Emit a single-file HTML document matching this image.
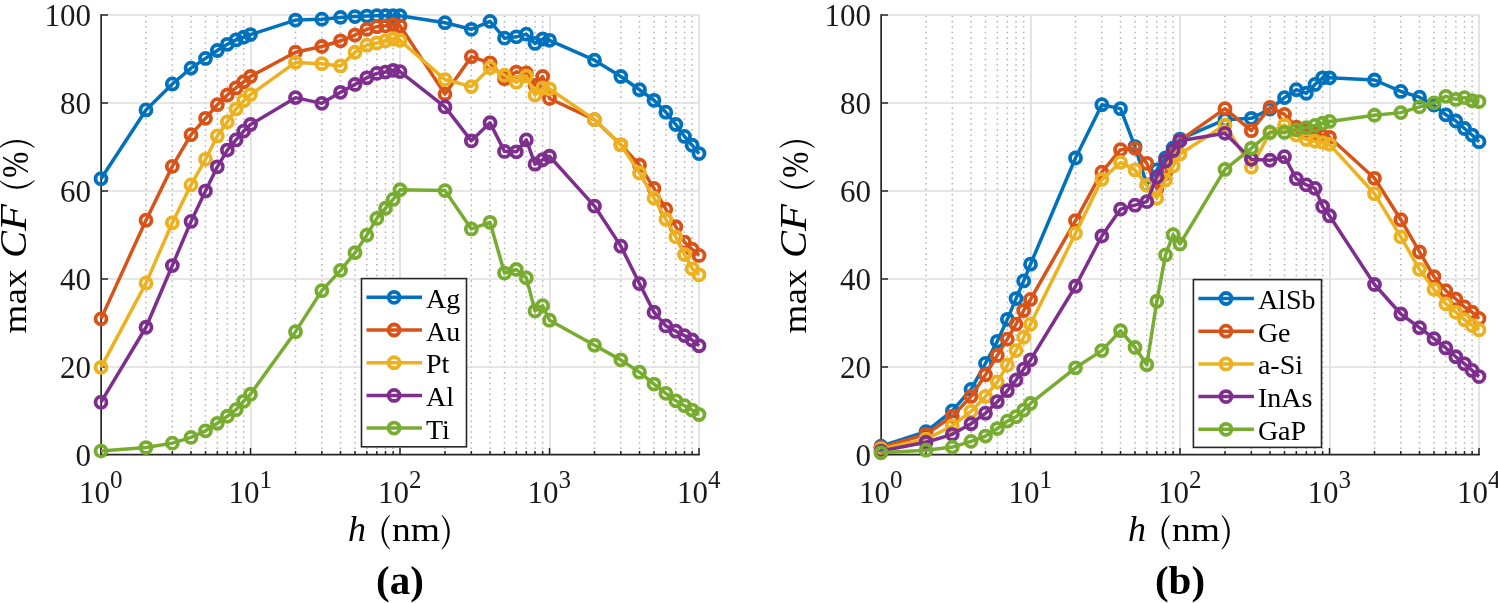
<!DOCTYPE html>
<html><head><meta charset="utf-8"><style>
html,body{margin:0;padding:0;background:#fff;}
svg{display:block;will-change:transform;}
text{font-family:"Liberation Serif",serif;fill:#000;}
.tk{font-size:31px;fill:#1a1a1a;}
.sup{font-size:25px;}
.lg{font-size:28px;}
.al{font-size:34px;}
.it{font-style:italic;}
.pl{font-size:41px;font-weight:bold;}
</style></head><body>
<svg width="1498" height="603" viewBox="0 0 1498 603">
<rect width="1498" height="603" fill="#fff"/>
<line x1="146.00" y1="15.00" x2="146.00" y2="455.00" stroke="#b0b0b0" stroke-width="1.5" stroke-dasharray="1.5 3.9" stroke-dashoffset="4.85"/>
<line x1="172.33" y1="15.00" x2="172.33" y2="455.00" stroke="#b0b0b0" stroke-width="1.5" stroke-dasharray="1.5 3.9" stroke-dashoffset="4.85"/>
<line x1="191.01" y1="15.00" x2="191.01" y2="455.00" stroke="#b0b0b0" stroke-width="1.5" stroke-dasharray="1.5 3.9" stroke-dashoffset="4.85"/>
<line x1="205.50" y1="15.00" x2="205.50" y2="455.00" stroke="#b0b0b0" stroke-width="1.5" stroke-dasharray="1.5 3.9" stroke-dashoffset="4.85"/>
<line x1="217.33" y1="15.00" x2="217.33" y2="455.00" stroke="#b0b0b0" stroke-width="1.5" stroke-dasharray="1.5 3.9" stroke-dashoffset="4.85"/>
<line x1="227.34" y1="15.00" x2="227.34" y2="455.00" stroke="#b0b0b0" stroke-width="1.5" stroke-dasharray="1.5 3.9" stroke-dashoffset="4.85"/>
<line x1="236.01" y1="15.00" x2="236.01" y2="455.00" stroke="#b0b0b0" stroke-width="1.5" stroke-dasharray="1.5 3.9" stroke-dashoffset="4.85"/>
<line x1="243.66" y1="15.00" x2="243.66" y2="455.00" stroke="#b0b0b0" stroke-width="1.5" stroke-dasharray="1.5 3.9" stroke-dashoffset="4.85"/>
<line x1="295.50" y1="15.00" x2="295.50" y2="455.00" stroke="#b0b0b0" stroke-width="1.5" stroke-dasharray="1.5 3.9" stroke-dashoffset="4.85"/>
<line x1="321.83" y1="15.00" x2="321.83" y2="455.00" stroke="#b0b0b0" stroke-width="1.5" stroke-dasharray="1.5 3.9" stroke-dashoffset="4.85"/>
<line x1="340.51" y1="15.00" x2="340.51" y2="455.00" stroke="#b0b0b0" stroke-width="1.5" stroke-dasharray="1.5 3.9" stroke-dashoffset="4.85"/>
<line x1="355.00" y1="15.00" x2="355.00" y2="455.00" stroke="#b0b0b0" stroke-width="1.5" stroke-dasharray="1.5 3.9" stroke-dashoffset="4.85"/>
<line x1="366.83" y1="15.00" x2="366.83" y2="455.00" stroke="#b0b0b0" stroke-width="1.5" stroke-dasharray="1.5 3.9" stroke-dashoffset="4.85"/>
<line x1="376.84" y1="15.00" x2="376.84" y2="455.00" stroke="#b0b0b0" stroke-width="1.5" stroke-dasharray="1.5 3.9" stroke-dashoffset="4.85"/>
<line x1="385.51" y1="15.00" x2="385.51" y2="455.00" stroke="#b0b0b0" stroke-width="1.5" stroke-dasharray="1.5 3.9" stroke-dashoffset="4.85"/>
<line x1="393.16" y1="15.00" x2="393.16" y2="455.00" stroke="#b0b0b0" stroke-width="1.5" stroke-dasharray="1.5 3.9" stroke-dashoffset="4.85"/>
<line x1="445.00" y1="15.00" x2="445.00" y2="455.00" stroke="#b0b0b0" stroke-width="1.5" stroke-dasharray="1.5 3.9" stroke-dashoffset="4.85"/>
<line x1="471.33" y1="15.00" x2="471.33" y2="455.00" stroke="#b0b0b0" stroke-width="1.5" stroke-dasharray="1.5 3.9" stroke-dashoffset="4.85"/>
<line x1="490.01" y1="15.00" x2="490.01" y2="455.00" stroke="#b0b0b0" stroke-width="1.5" stroke-dasharray="1.5 3.9" stroke-dashoffset="4.85"/>
<line x1="504.50" y1="15.00" x2="504.50" y2="455.00" stroke="#b0b0b0" stroke-width="1.5" stroke-dasharray="1.5 3.9" stroke-dashoffset="4.85"/>
<line x1="516.33" y1="15.00" x2="516.33" y2="455.00" stroke="#b0b0b0" stroke-width="1.5" stroke-dasharray="1.5 3.9" stroke-dashoffset="4.85"/>
<line x1="526.34" y1="15.00" x2="526.34" y2="455.00" stroke="#b0b0b0" stroke-width="1.5" stroke-dasharray="1.5 3.9" stroke-dashoffset="4.85"/>
<line x1="535.01" y1="15.00" x2="535.01" y2="455.00" stroke="#b0b0b0" stroke-width="1.5" stroke-dasharray="1.5 3.9" stroke-dashoffset="4.85"/>
<line x1="542.66" y1="15.00" x2="542.66" y2="455.00" stroke="#b0b0b0" stroke-width="1.5" stroke-dasharray="1.5 3.9" stroke-dashoffset="4.85"/>
<line x1="594.50" y1="15.00" x2="594.50" y2="455.00" stroke="#b0b0b0" stroke-width="1.5" stroke-dasharray="1.5 3.9" stroke-dashoffset="4.85"/>
<line x1="620.83" y1="15.00" x2="620.83" y2="455.00" stroke="#b0b0b0" stroke-width="1.5" stroke-dasharray="1.5 3.9" stroke-dashoffset="4.85"/>
<line x1="639.51" y1="15.00" x2="639.51" y2="455.00" stroke="#b0b0b0" stroke-width="1.5" stroke-dasharray="1.5 3.9" stroke-dashoffset="4.85"/>
<line x1="654.00" y1="15.00" x2="654.00" y2="455.00" stroke="#b0b0b0" stroke-width="1.5" stroke-dasharray="1.5 3.9" stroke-dashoffset="4.85"/>
<line x1="665.83" y1="15.00" x2="665.83" y2="455.00" stroke="#b0b0b0" stroke-width="1.5" stroke-dasharray="1.5 3.9" stroke-dashoffset="4.85"/>
<line x1="675.84" y1="15.00" x2="675.84" y2="455.00" stroke="#b0b0b0" stroke-width="1.5" stroke-dasharray="1.5 3.9" stroke-dashoffset="4.85"/>
<line x1="684.51" y1="15.00" x2="684.51" y2="455.00" stroke="#b0b0b0" stroke-width="1.5" stroke-dasharray="1.5 3.9" stroke-dashoffset="4.85"/>
<line x1="692.16" y1="15.00" x2="692.16" y2="455.00" stroke="#b0b0b0" stroke-width="1.5" stroke-dasharray="1.5 3.9" stroke-dashoffset="4.85"/>
<line x1="251.00" y1="455.00" x2="251.00" y2="15.00" stroke="#dedede" stroke-width="1.7"/>
<line x1="400.00" y1="455.00" x2="400.00" y2="15.00" stroke="#dedede" stroke-width="1.7"/>
<line x1="550.00" y1="455.00" x2="550.00" y2="15.00" stroke="#dedede" stroke-width="1.7"/>
<line x1="699.00" y1="455.00" x2="699.00" y2="15.00" stroke="#dedede" stroke-width="1.7"/>
<line x1="101.00" y1="367.00" x2="699.00" y2="367.00" stroke="#dedede" stroke-width="1.4"/>
<line x1="101.00" y1="279.00" x2="699.00" y2="279.00" stroke="#dedede" stroke-width="1.4"/>
<line x1="101.00" y1="191.00" x2="699.00" y2="191.00" stroke="#dedede" stroke-width="1.4"/>
<line x1="101.00" y1="103.00" x2="699.00" y2="103.00" stroke="#dedede" stroke-width="1.4"/>
<line x1="101.00" y1="15.00" x2="699.00" y2="15.00" stroke="#dedede" stroke-width="1.4"/>
<line x1="101.15" y1="14.20" x2="101.15" y2="455.50" stroke="#262626" stroke-width="1.7"/>
<line x1="100.30" y1="454.70" x2="699.80" y2="454.70" stroke="#262626" stroke-width="1.7"/>
<line x1="101.00" y1="455.00" x2="108.00" y2="455.00" stroke="#262626" stroke-width="1.5"/>
<text x="91.00" y="466.00" text-anchor="end" class="tk">0</text>
<line x1="101.00" y1="367.00" x2="108.00" y2="367.00" stroke="#262626" stroke-width="1.5"/>
<text x="91.00" y="378.00" text-anchor="end" class="tk">20</text>
<line x1="101.00" y1="279.00" x2="108.00" y2="279.00" stroke="#262626" stroke-width="1.5"/>
<text x="91.00" y="290.00" text-anchor="end" class="tk">40</text>
<line x1="101.00" y1="191.00" x2="108.00" y2="191.00" stroke="#262626" stroke-width="1.5"/>
<text x="91.00" y="202.00" text-anchor="end" class="tk">60</text>
<line x1="101.00" y1="103.00" x2="108.00" y2="103.00" stroke="#262626" stroke-width="1.5"/>
<text x="91.00" y="114.00" text-anchor="end" class="tk">80</text>
<line x1="101.00" y1="15.00" x2="108.00" y2="15.00" stroke="#262626" stroke-width="1.5"/>
<text x="91.00" y="26.00" text-anchor="end" class="tk">100</text>
<line x1="101.00" y1="455.00" x2="101.00" y2="448.00" stroke="#262626" stroke-width="1.5"/>
<line x1="146.00" y1="455.00" x2="146.00" y2="451.00" stroke="#262626" stroke-width="1.5"/>
<line x1="172.33" y1="455.00" x2="172.33" y2="451.00" stroke="#262626" stroke-width="1.5"/>
<line x1="191.01" y1="455.00" x2="191.01" y2="451.00" stroke="#262626" stroke-width="1.5"/>
<line x1="205.50" y1="455.00" x2="205.50" y2="451.00" stroke="#262626" stroke-width="1.5"/>
<line x1="217.33" y1="455.00" x2="217.33" y2="451.00" stroke="#262626" stroke-width="1.5"/>
<line x1="227.34" y1="455.00" x2="227.34" y2="451.00" stroke="#262626" stroke-width="1.5"/>
<line x1="236.01" y1="455.00" x2="236.01" y2="451.00" stroke="#262626" stroke-width="1.5"/>
<line x1="243.66" y1="455.00" x2="243.66" y2="451.00" stroke="#262626" stroke-width="1.5"/>
<text x="100.70" y="503" text-anchor="middle" class="tk">10<tspan class="sup" dy="-15">0</tspan></text>
<line x1="250.50" y1="455.00" x2="250.50" y2="448.00" stroke="#262626" stroke-width="1.5"/>
<line x1="295.50" y1="455.00" x2="295.50" y2="451.00" stroke="#262626" stroke-width="1.5"/>
<line x1="321.83" y1="455.00" x2="321.83" y2="451.00" stroke="#262626" stroke-width="1.5"/>
<line x1="340.51" y1="455.00" x2="340.51" y2="451.00" stroke="#262626" stroke-width="1.5"/>
<line x1="355.00" y1="455.00" x2="355.00" y2="451.00" stroke="#262626" stroke-width="1.5"/>
<line x1="366.83" y1="455.00" x2="366.83" y2="451.00" stroke="#262626" stroke-width="1.5"/>
<line x1="376.84" y1="455.00" x2="376.84" y2="451.00" stroke="#262626" stroke-width="1.5"/>
<line x1="385.51" y1="455.00" x2="385.51" y2="451.00" stroke="#262626" stroke-width="1.5"/>
<line x1="393.16" y1="455.00" x2="393.16" y2="451.00" stroke="#262626" stroke-width="1.5"/>
<text x="250.20" y="503" text-anchor="middle" class="tk">10<tspan class="sup" dy="-15">1</tspan></text>
<line x1="400.00" y1="455.00" x2="400.00" y2="448.00" stroke="#262626" stroke-width="1.5"/>
<line x1="445.00" y1="455.00" x2="445.00" y2="451.00" stroke="#262626" stroke-width="1.5"/>
<line x1="471.33" y1="455.00" x2="471.33" y2="451.00" stroke="#262626" stroke-width="1.5"/>
<line x1="490.01" y1="455.00" x2="490.01" y2="451.00" stroke="#262626" stroke-width="1.5"/>
<line x1="504.50" y1="455.00" x2="504.50" y2="451.00" stroke="#262626" stroke-width="1.5"/>
<line x1="516.33" y1="455.00" x2="516.33" y2="451.00" stroke="#262626" stroke-width="1.5"/>
<line x1="526.34" y1="455.00" x2="526.34" y2="451.00" stroke="#262626" stroke-width="1.5"/>
<line x1="535.01" y1="455.00" x2="535.01" y2="451.00" stroke="#262626" stroke-width="1.5"/>
<line x1="542.66" y1="455.00" x2="542.66" y2="451.00" stroke="#262626" stroke-width="1.5"/>
<text x="399.70" y="503" text-anchor="middle" class="tk">10<tspan class="sup" dy="-15">2</tspan></text>
<line x1="549.50" y1="455.00" x2="549.50" y2="448.00" stroke="#262626" stroke-width="1.5"/>
<line x1="594.50" y1="455.00" x2="594.50" y2="451.00" stroke="#262626" stroke-width="1.5"/>
<line x1="620.83" y1="455.00" x2="620.83" y2="451.00" stroke="#262626" stroke-width="1.5"/>
<line x1="639.51" y1="455.00" x2="639.51" y2="451.00" stroke="#262626" stroke-width="1.5"/>
<line x1="654.00" y1="455.00" x2="654.00" y2="451.00" stroke="#262626" stroke-width="1.5"/>
<line x1="665.83" y1="455.00" x2="665.83" y2="451.00" stroke="#262626" stroke-width="1.5"/>
<line x1="675.84" y1="455.00" x2="675.84" y2="451.00" stroke="#262626" stroke-width="1.5"/>
<line x1="684.51" y1="455.00" x2="684.51" y2="451.00" stroke="#262626" stroke-width="1.5"/>
<line x1="692.16" y1="455.00" x2="692.16" y2="451.00" stroke="#262626" stroke-width="1.5"/>
<text x="549.20" y="503" text-anchor="middle" class="tk">10<tspan class="sup" dy="-15">3</tspan></text>
<line x1="699.00" y1="455.00" x2="699.00" y2="448.00" stroke="#262626" stroke-width="1.5"/>
<text x="698.70" y="503" text-anchor="middle" class="tk">10<tspan class="sup" dy="-15">4</tspan></text>
<polyline points="101.00,178.72 146.00,109.97 172.33,83.97 191.01,68.11 205.50,58.41 217.33,50.48 227.34,44.31 236.01,39.90 243.66,37.26 250.50,34.61 295.50,20.07 321.83,19.19 340.51,17.42 355.00,16.54 366.83,16.10 376.84,15.66 385.51,15.66 393.16,15.66 400.00,15.66 445.00,22.71 471.33,29.32 490.01,21.39 504.50,38.14 516.33,36.82 526.34,34.17 535.01,43.43 542.66,39.02 549.50,40.34 594.50,60.17 620.83,76.48 639.51,89.70 654.00,100.28 665.83,112.18 675.84,124.52 684.51,136.41 692.16,145.23 699.00,153.60" fill="none" stroke="#0072BD" stroke-width="3.5" stroke-linejoin="round"/>
<circle cx="101.00" cy="178.72" r="5.5" fill="none" stroke="#0072BD" stroke-width="3.8"/>
<circle cx="146.00" cy="109.97" r="5.5" fill="none" stroke="#0072BD" stroke-width="3.8"/>
<circle cx="172.33" cy="83.97" r="5.5" fill="none" stroke="#0072BD" stroke-width="3.8"/>
<circle cx="191.01" cy="68.11" r="5.5" fill="none" stroke="#0072BD" stroke-width="3.8"/>
<circle cx="205.50" cy="58.41" r="5.5" fill="none" stroke="#0072BD" stroke-width="3.8"/>
<circle cx="217.33" cy="50.48" r="5.5" fill="none" stroke="#0072BD" stroke-width="3.8"/>
<circle cx="227.34" cy="44.31" r="5.5" fill="none" stroke="#0072BD" stroke-width="3.8"/>
<circle cx="236.01" cy="39.90" r="5.5" fill="none" stroke="#0072BD" stroke-width="3.8"/>
<circle cx="243.66" cy="37.26" r="5.5" fill="none" stroke="#0072BD" stroke-width="3.8"/>
<circle cx="250.50" cy="34.61" r="5.5" fill="none" stroke="#0072BD" stroke-width="3.8"/>
<circle cx="295.50" cy="20.07" r="5.5" fill="none" stroke="#0072BD" stroke-width="3.8"/>
<circle cx="321.83" cy="19.19" r="5.5" fill="none" stroke="#0072BD" stroke-width="3.8"/>
<circle cx="340.51" cy="17.42" r="5.5" fill="none" stroke="#0072BD" stroke-width="3.8"/>
<circle cx="355.00" cy="16.54" r="5.5" fill="none" stroke="#0072BD" stroke-width="3.8"/>
<circle cx="366.83" cy="16.10" r="5.5" fill="none" stroke="#0072BD" stroke-width="3.8"/>
<circle cx="376.84" cy="15.66" r="5.5" fill="none" stroke="#0072BD" stroke-width="3.8"/>
<circle cx="385.51" cy="15.66" r="5.5" fill="none" stroke="#0072BD" stroke-width="3.8"/>
<circle cx="393.16" cy="15.66" r="5.5" fill="none" stroke="#0072BD" stroke-width="3.8"/>
<circle cx="400.00" cy="15.66" r="5.5" fill="none" stroke="#0072BD" stroke-width="3.8"/>
<circle cx="445.00" cy="22.71" r="5.5" fill="none" stroke="#0072BD" stroke-width="3.8"/>
<circle cx="471.33" cy="29.32" r="5.5" fill="none" stroke="#0072BD" stroke-width="3.8"/>
<circle cx="490.01" cy="21.39" r="5.5" fill="none" stroke="#0072BD" stroke-width="3.8"/>
<circle cx="504.50" cy="38.14" r="5.5" fill="none" stroke="#0072BD" stroke-width="3.8"/>
<circle cx="516.33" cy="36.82" r="5.5" fill="none" stroke="#0072BD" stroke-width="3.8"/>
<circle cx="526.34" cy="34.17" r="5.5" fill="none" stroke="#0072BD" stroke-width="3.8"/>
<circle cx="535.01" cy="43.43" r="5.5" fill="none" stroke="#0072BD" stroke-width="3.8"/>
<circle cx="542.66" cy="39.02" r="5.5" fill="none" stroke="#0072BD" stroke-width="3.8"/>
<circle cx="549.50" cy="40.34" r="5.5" fill="none" stroke="#0072BD" stroke-width="3.8"/>
<circle cx="594.50" cy="60.17" r="5.5" fill="none" stroke="#0072BD" stroke-width="3.8"/>
<circle cx="620.83" cy="76.48" r="5.5" fill="none" stroke="#0072BD" stroke-width="3.8"/>
<circle cx="639.51" cy="89.70" r="5.5" fill="none" stroke="#0072BD" stroke-width="3.8"/>
<circle cx="654.00" cy="100.28" r="5.5" fill="none" stroke="#0072BD" stroke-width="3.8"/>
<circle cx="665.83" cy="112.18" r="5.5" fill="none" stroke="#0072BD" stroke-width="3.8"/>
<circle cx="675.84" cy="124.52" r="5.5" fill="none" stroke="#0072BD" stroke-width="3.8"/>
<circle cx="684.51" cy="136.41" r="5.5" fill="none" stroke="#0072BD" stroke-width="3.8"/>
<circle cx="692.16" cy="145.23" r="5.5" fill="none" stroke="#0072BD" stroke-width="3.8"/>
<circle cx="699.00" cy="153.60" r="5.5" fill="none" stroke="#0072BD" stroke-width="3.8"/>
<polyline points="101.00,318.87 146.00,220.15 172.33,166.38 191.01,134.65 205.50,118.35 217.33,104.68 227.34,94.99 236.01,87.94 243.66,81.77 250.50,76.48 295.50,52.24 321.83,46.51 340.51,40.78 355.00,35.05 366.83,29.32 376.84,26.68 385.51,25.80 393.16,24.48 400.00,25.80 445.00,94.11 471.33,56.65 490.01,62.82 504.50,78.68 516.33,72.07 526.34,72.95 535.01,85.29 542.66,76.48 549.50,98.51 594.50,119.67 620.83,144.79 639.51,165.06 654.00,188.42 665.83,209.13 675.84,226.76 684.51,242.18 692.16,249.23 699.00,255.40" fill="none" stroke="#D95319" stroke-width="3.5" stroke-linejoin="round"/>
<circle cx="101.00" cy="318.87" r="5.5" fill="none" stroke="#D95319" stroke-width="3.8"/>
<circle cx="146.00" cy="220.15" r="5.5" fill="none" stroke="#D95319" stroke-width="3.8"/>
<circle cx="172.33" cy="166.38" r="5.5" fill="none" stroke="#D95319" stroke-width="3.8"/>
<circle cx="191.01" cy="134.65" r="5.5" fill="none" stroke="#D95319" stroke-width="3.8"/>
<circle cx="205.50" cy="118.35" r="5.5" fill="none" stroke="#D95319" stroke-width="3.8"/>
<circle cx="217.33" cy="104.68" r="5.5" fill="none" stroke="#D95319" stroke-width="3.8"/>
<circle cx="227.34" cy="94.99" r="5.5" fill="none" stroke="#D95319" stroke-width="3.8"/>
<circle cx="236.01" cy="87.94" r="5.5" fill="none" stroke="#D95319" stroke-width="3.8"/>
<circle cx="243.66" cy="81.77" r="5.5" fill="none" stroke="#D95319" stroke-width="3.8"/>
<circle cx="250.50" cy="76.48" r="5.5" fill="none" stroke="#D95319" stroke-width="3.8"/>
<circle cx="295.50" cy="52.24" r="5.5" fill="none" stroke="#D95319" stroke-width="3.8"/>
<circle cx="321.83" cy="46.51" r="5.5" fill="none" stroke="#D95319" stroke-width="3.8"/>
<circle cx="340.51" cy="40.78" r="5.5" fill="none" stroke="#D95319" stroke-width="3.8"/>
<circle cx="355.00" cy="35.05" r="5.5" fill="none" stroke="#D95319" stroke-width="3.8"/>
<circle cx="366.83" cy="29.32" r="5.5" fill="none" stroke="#D95319" stroke-width="3.8"/>
<circle cx="376.84" cy="26.68" r="5.5" fill="none" stroke="#D95319" stroke-width="3.8"/>
<circle cx="385.51" cy="25.80" r="5.5" fill="none" stroke="#D95319" stroke-width="3.8"/>
<circle cx="393.16" cy="24.48" r="5.5" fill="none" stroke="#D95319" stroke-width="3.8"/>
<circle cx="400.00" cy="25.80" r="5.5" fill="none" stroke="#D95319" stroke-width="3.8"/>
<circle cx="445.00" cy="94.11" r="5.5" fill="none" stroke="#D95319" stroke-width="3.8"/>
<circle cx="471.33" cy="56.65" r="5.5" fill="none" stroke="#D95319" stroke-width="3.8"/>
<circle cx="490.01" cy="62.82" r="5.5" fill="none" stroke="#D95319" stroke-width="3.8"/>
<circle cx="504.50" cy="78.68" r="5.5" fill="none" stroke="#D95319" stroke-width="3.8"/>
<circle cx="516.33" cy="72.07" r="5.5" fill="none" stroke="#D95319" stroke-width="3.8"/>
<circle cx="526.34" cy="72.95" r="5.5" fill="none" stroke="#D95319" stroke-width="3.8"/>
<circle cx="535.01" cy="85.29" r="5.5" fill="none" stroke="#D95319" stroke-width="3.8"/>
<circle cx="542.66" cy="76.48" r="5.5" fill="none" stroke="#D95319" stroke-width="3.8"/>
<circle cx="549.50" cy="98.51" r="5.5" fill="none" stroke="#D95319" stroke-width="3.8"/>
<circle cx="594.50" cy="119.67" r="5.5" fill="none" stroke="#D95319" stroke-width="3.8"/>
<circle cx="620.83" cy="144.79" r="5.5" fill="none" stroke="#D95319" stroke-width="3.8"/>
<circle cx="639.51" cy="165.06" r="5.5" fill="none" stroke="#D95319" stroke-width="3.8"/>
<circle cx="654.00" cy="188.42" r="5.5" fill="none" stroke="#D95319" stroke-width="3.8"/>
<circle cx="665.83" cy="209.13" r="5.5" fill="none" stroke="#D95319" stroke-width="3.8"/>
<circle cx="675.84" cy="226.76" r="5.5" fill="none" stroke="#D95319" stroke-width="3.8"/>
<circle cx="684.51" cy="242.18" r="5.5" fill="none" stroke="#D95319" stroke-width="3.8"/>
<circle cx="692.16" cy="249.23" r="5.5" fill="none" stroke="#D95319" stroke-width="3.8"/>
<circle cx="699.00" cy="255.40" r="5.5" fill="none" stroke="#D95319" stroke-width="3.8"/>
<polyline points="101.00,367.34 146.00,283.17 172.33,222.79 191.01,184.89 205.50,159.33 217.33,135.97 227.34,121.87 236.01,109.09 243.66,100.72 250.50,94.55 295.50,62.38 321.83,63.70 340.51,65.90 355.00,52.24 366.83,45.19 376.84,42.99 385.51,40.78 393.16,39.02 400.00,40.34 445.00,79.56 471.33,86.61 490.01,67.66 504.50,75.16 516.33,82.21 526.34,76.04 535.01,94.99 542.66,87.94 549.50,88.82 594.50,119.67 620.83,144.79 639.51,172.99 654.00,198.11 665.83,219.27 675.84,236.89 684.51,254.52 692.16,268.63 699.00,274.80" fill="none" stroke="#EDB120" stroke-width="3.5" stroke-linejoin="round"/>
<circle cx="101.00" cy="367.34" r="5.5" fill="none" stroke="#EDB120" stroke-width="3.8"/>
<circle cx="146.00" cy="283.17" r="5.5" fill="none" stroke="#EDB120" stroke-width="3.8"/>
<circle cx="172.33" cy="222.79" r="5.5" fill="none" stroke="#EDB120" stroke-width="3.8"/>
<circle cx="191.01" cy="184.89" r="5.5" fill="none" stroke="#EDB120" stroke-width="3.8"/>
<circle cx="205.50" cy="159.33" r="5.5" fill="none" stroke="#EDB120" stroke-width="3.8"/>
<circle cx="217.33" cy="135.97" r="5.5" fill="none" stroke="#EDB120" stroke-width="3.8"/>
<circle cx="227.34" cy="121.87" r="5.5" fill="none" stroke="#EDB120" stroke-width="3.8"/>
<circle cx="236.01" cy="109.09" r="5.5" fill="none" stroke="#EDB120" stroke-width="3.8"/>
<circle cx="243.66" cy="100.72" r="5.5" fill="none" stroke="#EDB120" stroke-width="3.8"/>
<circle cx="250.50" cy="94.55" r="5.5" fill="none" stroke="#EDB120" stroke-width="3.8"/>
<circle cx="295.50" cy="62.38" r="5.5" fill="none" stroke="#EDB120" stroke-width="3.8"/>
<circle cx="321.83" cy="63.70" r="5.5" fill="none" stroke="#EDB120" stroke-width="3.8"/>
<circle cx="340.51" cy="65.90" r="5.5" fill="none" stroke="#EDB120" stroke-width="3.8"/>
<circle cx="355.00" cy="52.24" r="5.5" fill="none" stroke="#EDB120" stroke-width="3.8"/>
<circle cx="366.83" cy="45.19" r="5.5" fill="none" stroke="#EDB120" stroke-width="3.8"/>
<circle cx="376.84" cy="42.99" r="5.5" fill="none" stroke="#EDB120" stroke-width="3.8"/>
<circle cx="385.51" cy="40.78" r="5.5" fill="none" stroke="#EDB120" stroke-width="3.8"/>
<circle cx="393.16" cy="39.02" r="5.5" fill="none" stroke="#EDB120" stroke-width="3.8"/>
<circle cx="400.00" cy="40.34" r="5.5" fill="none" stroke="#EDB120" stroke-width="3.8"/>
<circle cx="445.00" cy="79.56" r="5.5" fill="none" stroke="#EDB120" stroke-width="3.8"/>
<circle cx="471.33" cy="86.61" r="5.5" fill="none" stroke="#EDB120" stroke-width="3.8"/>
<circle cx="490.01" cy="67.66" r="5.5" fill="none" stroke="#EDB120" stroke-width="3.8"/>
<circle cx="504.50" cy="75.16" r="5.5" fill="none" stroke="#EDB120" stroke-width="3.8"/>
<circle cx="516.33" cy="82.21" r="5.5" fill="none" stroke="#EDB120" stroke-width="3.8"/>
<circle cx="526.34" cy="76.04" r="5.5" fill="none" stroke="#EDB120" stroke-width="3.8"/>
<circle cx="535.01" cy="94.99" r="5.5" fill="none" stroke="#EDB120" stroke-width="3.8"/>
<circle cx="542.66" cy="87.94" r="5.5" fill="none" stroke="#EDB120" stroke-width="3.8"/>
<circle cx="549.50" cy="88.82" r="5.5" fill="none" stroke="#EDB120" stroke-width="3.8"/>
<circle cx="594.50" cy="119.67" r="5.5" fill="none" stroke="#EDB120" stroke-width="3.8"/>
<circle cx="620.83" cy="144.79" r="5.5" fill="none" stroke="#EDB120" stroke-width="3.8"/>
<circle cx="639.51" cy="172.99" r="5.5" fill="none" stroke="#EDB120" stroke-width="3.8"/>
<circle cx="654.00" cy="198.11" r="5.5" fill="none" stroke="#EDB120" stroke-width="3.8"/>
<circle cx="665.83" cy="219.27" r="5.5" fill="none" stroke="#EDB120" stroke-width="3.8"/>
<circle cx="675.84" cy="236.89" r="5.5" fill="none" stroke="#EDB120" stroke-width="3.8"/>
<circle cx="684.51" cy="254.52" r="5.5" fill="none" stroke="#EDB120" stroke-width="3.8"/>
<circle cx="692.16" cy="268.63" r="5.5" fill="none" stroke="#EDB120" stroke-width="3.8"/>
<circle cx="699.00" cy="274.80" r="5.5" fill="none" stroke="#EDB120" stroke-width="3.8"/>
<polyline points="101.00,402.16 146.00,327.24 172.33,265.54 191.01,221.47 205.50,191.06 217.33,166.82 227.34,150.08 236.01,139.94 243.66,131.13 250.50,124.52 295.50,97.63 321.83,103.36 340.51,92.34 355.00,84.41 366.83,77.80 376.84,73.39 385.51,72.07 393.16,70.31 400.00,71.63 445.00,106.89 471.33,140.82 490.01,122.75 504.50,151.40 516.33,151.84 526.34,139.94 535.01,164.18 542.66,159.77 549.50,156.25 594.50,206.05 620.83,246.15 639.51,283.61 654.00,312.26 665.83,325.92 675.84,331.21 684.51,335.61 692.16,340.02 699.00,345.75" fill="none" stroke="#7E2F8E" stroke-width="3.5" stroke-linejoin="round"/>
<circle cx="101.00" cy="402.16" r="5.5" fill="none" stroke="#7E2F8E" stroke-width="3.8"/>
<circle cx="146.00" cy="327.24" r="5.5" fill="none" stroke="#7E2F8E" stroke-width="3.8"/>
<circle cx="172.33" cy="265.54" r="5.5" fill="none" stroke="#7E2F8E" stroke-width="3.8"/>
<circle cx="191.01" cy="221.47" r="5.5" fill="none" stroke="#7E2F8E" stroke-width="3.8"/>
<circle cx="205.50" cy="191.06" r="5.5" fill="none" stroke="#7E2F8E" stroke-width="3.8"/>
<circle cx="217.33" cy="166.82" r="5.5" fill="none" stroke="#7E2F8E" stroke-width="3.8"/>
<circle cx="227.34" cy="150.08" r="5.5" fill="none" stroke="#7E2F8E" stroke-width="3.8"/>
<circle cx="236.01" cy="139.94" r="5.5" fill="none" stroke="#7E2F8E" stroke-width="3.8"/>
<circle cx="243.66" cy="131.13" r="5.5" fill="none" stroke="#7E2F8E" stroke-width="3.8"/>
<circle cx="250.50" cy="124.52" r="5.5" fill="none" stroke="#7E2F8E" stroke-width="3.8"/>
<circle cx="295.50" cy="97.63" r="5.5" fill="none" stroke="#7E2F8E" stroke-width="3.8"/>
<circle cx="321.83" cy="103.36" r="5.5" fill="none" stroke="#7E2F8E" stroke-width="3.8"/>
<circle cx="340.51" cy="92.34" r="5.5" fill="none" stroke="#7E2F8E" stroke-width="3.8"/>
<circle cx="355.00" cy="84.41" r="5.5" fill="none" stroke="#7E2F8E" stroke-width="3.8"/>
<circle cx="366.83" cy="77.80" r="5.5" fill="none" stroke="#7E2F8E" stroke-width="3.8"/>
<circle cx="376.84" cy="73.39" r="5.5" fill="none" stroke="#7E2F8E" stroke-width="3.8"/>
<circle cx="385.51" cy="72.07" r="5.5" fill="none" stroke="#7E2F8E" stroke-width="3.8"/>
<circle cx="393.16" cy="70.31" r="5.5" fill="none" stroke="#7E2F8E" stroke-width="3.8"/>
<circle cx="400.00" cy="71.63" r="5.5" fill="none" stroke="#7E2F8E" stroke-width="3.8"/>
<circle cx="445.00" cy="106.89" r="5.5" fill="none" stroke="#7E2F8E" stroke-width="3.8"/>
<circle cx="471.33" cy="140.82" r="5.5" fill="none" stroke="#7E2F8E" stroke-width="3.8"/>
<circle cx="490.01" cy="122.75" r="5.5" fill="none" stroke="#7E2F8E" stroke-width="3.8"/>
<circle cx="504.50" cy="151.40" r="5.5" fill="none" stroke="#7E2F8E" stroke-width="3.8"/>
<circle cx="516.33" cy="151.84" r="5.5" fill="none" stroke="#7E2F8E" stroke-width="3.8"/>
<circle cx="526.34" cy="139.94" r="5.5" fill="none" stroke="#7E2F8E" stroke-width="3.8"/>
<circle cx="535.01" cy="164.18" r="5.5" fill="none" stroke="#7E2F8E" stroke-width="3.8"/>
<circle cx="542.66" cy="159.77" r="5.5" fill="none" stroke="#7E2F8E" stroke-width="3.8"/>
<circle cx="549.50" cy="156.25" r="5.5" fill="none" stroke="#7E2F8E" stroke-width="3.8"/>
<circle cx="594.50" cy="206.05" r="5.5" fill="none" stroke="#7E2F8E" stroke-width="3.8"/>
<circle cx="620.83" cy="246.15" r="5.5" fill="none" stroke="#7E2F8E" stroke-width="3.8"/>
<circle cx="639.51" cy="283.61" r="5.5" fill="none" stroke="#7E2F8E" stroke-width="3.8"/>
<circle cx="654.00" cy="312.26" r="5.5" fill="none" stroke="#7E2F8E" stroke-width="3.8"/>
<circle cx="665.83" cy="325.92" r="5.5" fill="none" stroke="#7E2F8E" stroke-width="3.8"/>
<circle cx="675.84" cy="331.21" r="5.5" fill="none" stroke="#7E2F8E" stroke-width="3.8"/>
<circle cx="684.51" cy="335.61" r="5.5" fill="none" stroke="#7E2F8E" stroke-width="3.8"/>
<circle cx="692.16" cy="340.02" r="5.5" fill="none" stroke="#7E2F8E" stroke-width="3.8"/>
<circle cx="699.00" cy="345.75" r="5.5" fill="none" stroke="#7E2F8E" stroke-width="3.8"/>
<polyline points="101.00,451.08 146.00,447.55 172.33,443.14 191.01,437.42 205.50,430.80 217.33,423.31 227.34,416.26 236.01,409.65 243.66,401.28 250.50,394.23 295.50,331.65 321.83,290.66 340.51,270.39 355.00,252.76 366.83,235.13 376.84,218.39 385.51,208.25 393.16,199.43 400.00,189.74 445.00,190.62 471.33,228.96 490.01,222.35 504.50,273.03 516.33,269.51 526.34,277.88 535.01,310.93 542.66,305.64 549.50,320.19 594.50,345.31 620.83,359.85 639.51,372.19 654.00,384.09 665.83,393.34 675.84,400.84 684.51,405.68 692.16,410.09 699.00,414.50" fill="none" stroke="#77AC30" stroke-width="3.5" stroke-linejoin="round"/>
<circle cx="101.00" cy="451.08" r="5.5" fill="none" stroke="#77AC30" stroke-width="3.8"/>
<circle cx="146.00" cy="447.55" r="5.5" fill="none" stroke="#77AC30" stroke-width="3.8"/>
<circle cx="172.33" cy="443.14" r="5.5" fill="none" stroke="#77AC30" stroke-width="3.8"/>
<circle cx="191.01" cy="437.42" r="5.5" fill="none" stroke="#77AC30" stroke-width="3.8"/>
<circle cx="205.50" cy="430.80" r="5.5" fill="none" stroke="#77AC30" stroke-width="3.8"/>
<circle cx="217.33" cy="423.31" r="5.5" fill="none" stroke="#77AC30" stroke-width="3.8"/>
<circle cx="227.34" cy="416.26" r="5.5" fill="none" stroke="#77AC30" stroke-width="3.8"/>
<circle cx="236.01" cy="409.65" r="5.5" fill="none" stroke="#77AC30" stroke-width="3.8"/>
<circle cx="243.66" cy="401.28" r="5.5" fill="none" stroke="#77AC30" stroke-width="3.8"/>
<circle cx="250.50" cy="394.23" r="5.5" fill="none" stroke="#77AC30" stroke-width="3.8"/>
<circle cx="295.50" cy="331.65" r="5.5" fill="none" stroke="#77AC30" stroke-width="3.8"/>
<circle cx="321.83" cy="290.66" r="5.5" fill="none" stroke="#77AC30" stroke-width="3.8"/>
<circle cx="340.51" cy="270.39" r="5.5" fill="none" stroke="#77AC30" stroke-width="3.8"/>
<circle cx="355.00" cy="252.76" r="5.5" fill="none" stroke="#77AC30" stroke-width="3.8"/>
<circle cx="366.83" cy="235.13" r="5.5" fill="none" stroke="#77AC30" stroke-width="3.8"/>
<circle cx="376.84" cy="218.39" r="5.5" fill="none" stroke="#77AC30" stroke-width="3.8"/>
<circle cx="385.51" cy="208.25" r="5.5" fill="none" stroke="#77AC30" stroke-width="3.8"/>
<circle cx="393.16" cy="199.43" r="5.5" fill="none" stroke="#77AC30" stroke-width="3.8"/>
<circle cx="400.00" cy="189.74" r="5.5" fill="none" stroke="#77AC30" stroke-width="3.8"/>
<circle cx="445.00" cy="190.62" r="5.5" fill="none" stroke="#77AC30" stroke-width="3.8"/>
<circle cx="471.33" cy="228.96" r="5.5" fill="none" stroke="#77AC30" stroke-width="3.8"/>
<circle cx="490.01" cy="222.35" r="5.5" fill="none" stroke="#77AC30" stroke-width="3.8"/>
<circle cx="504.50" cy="273.03" r="5.5" fill="none" stroke="#77AC30" stroke-width="3.8"/>
<circle cx="516.33" cy="269.51" r="5.5" fill="none" stroke="#77AC30" stroke-width="3.8"/>
<circle cx="526.34" cy="277.88" r="5.5" fill="none" stroke="#77AC30" stroke-width="3.8"/>
<circle cx="535.01" cy="310.93" r="5.5" fill="none" stroke="#77AC30" stroke-width="3.8"/>
<circle cx="542.66" cy="305.64" r="5.5" fill="none" stroke="#77AC30" stroke-width="3.8"/>
<circle cx="549.50" cy="320.19" r="5.5" fill="none" stroke="#77AC30" stroke-width="3.8"/>
<circle cx="594.50" cy="345.31" r="5.5" fill="none" stroke="#77AC30" stroke-width="3.8"/>
<circle cx="620.83" cy="359.85" r="5.5" fill="none" stroke="#77AC30" stroke-width="3.8"/>
<circle cx="639.51" cy="372.19" r="5.5" fill="none" stroke="#77AC30" stroke-width="3.8"/>
<circle cx="654.00" cy="384.09" r="5.5" fill="none" stroke="#77AC30" stroke-width="3.8"/>
<circle cx="665.83" cy="393.34" r="5.5" fill="none" stroke="#77AC30" stroke-width="3.8"/>
<circle cx="675.84" cy="400.84" r="5.5" fill="none" stroke="#77AC30" stroke-width="3.8"/>
<circle cx="684.51" cy="405.68" r="5.5" fill="none" stroke="#77AC30" stroke-width="3.8"/>
<circle cx="692.16" cy="410.09" r="5.5" fill="none" stroke="#77AC30" stroke-width="3.8"/>
<circle cx="699.00" cy="414.50" r="5.5" fill="none" stroke="#77AC30" stroke-width="3.8"/>
<rect x="361.50" y="278.60" width="105.00" height="168.20" fill="#fff" stroke="#262626" stroke-width="1.6"/>
<line x1="366.50" y1="297.30" x2="422.00" y2="297.30" stroke="#0072BD" stroke-width="3.5"/>
<circle cx="394.10" cy="297.30" r="5.5" fill="none" stroke="#0072BD" stroke-width="3.8"/>
<text x="426.00" y="307.80" class="lg">Ag</text>
<line x1="366.50" y1="330.00" x2="422.00" y2="330.00" stroke="#D95319" stroke-width="3.5"/>
<circle cx="394.10" cy="330.00" r="5.5" fill="none" stroke="#D95319" stroke-width="3.8"/>
<text x="426.00" y="340.50" class="lg">Au</text>
<line x1="366.50" y1="362.70" x2="422.00" y2="362.70" stroke="#EDB120" stroke-width="3.5"/>
<circle cx="394.10" cy="362.70" r="5.5" fill="none" stroke="#EDB120" stroke-width="3.8"/>
<text x="426.00" y="373.20" class="lg">Pt</text>
<line x1="366.50" y1="395.40" x2="422.00" y2="395.40" stroke="#7E2F8E" stroke-width="3.5"/>
<circle cx="394.10" cy="395.40" r="5.5" fill="none" stroke="#7E2F8E" stroke-width="3.8"/>
<text x="426.00" y="405.90" class="lg">Al</text>
<line x1="366.50" y1="428.10" x2="422.00" y2="428.10" stroke="#77AC30" stroke-width="3.5"/>
<circle cx="394.10" cy="428.10" r="5.5" fill="none" stroke="#77AC30" stroke-width="3.8"/>
<text x="426.00" y="438.60" class="lg">Ti</text>
<g transform="translate(26.00,0) rotate(-90)"><text x="-333.4" y="0" class="al" textLength="64" lengthAdjust="spacingAndGlyphs">max</text><text x="-258.0" y="0" class="al it" style="font-size:37.5px" textLength="27" lengthAdjust="spacingAndGlyphs">C</text><text x="-231.0" y="0" class="al it" style="font-size:37.5px" textLength="27" lengthAdjust="spacingAndGlyphs">F</text><text x="-177.8" y="1.5" class="al" style="font-size:38px" textLength="26" lengthAdjust="spacingAndGlyphs">%</text></g>
<text x="348.00" y="541" class="al it" style="font-size:36px">h</text>
<path d="M-0.50,181.00 A23.74,23.74 0 0 0 34.50,181.00 L34.50,180.00 A27.13,27.13 0 0 1 -0.50,180.00 Z" fill="#000"/>
<path d="M-0.50,147.00 A25.38,25.38 0 0 1 34.50,147.00 L34.50,148.00 A29.71,29.71 0 0 0 -0.50,148.00 Z" fill="#000"/>
<path d="M389.20,515.30 A22.62,22.62 0 0 0 389.20,549.30 L390.20,549.30 A25.78,25.78 0 0 1 390.20,515.30 Z" fill="#000"/>
<text x="392.00" y="541" class="al" textLength="48" lengthAdjust="spacingAndGlyphs">nm</text>
<path d="M442.40,515.30 A23.23,23.23 0 0 1 442.40,549.30 L441.40,549.30 A26.74,26.74 0 0 0 441.40,515.30 Z" fill="#000"/>
<text x="400.00" y="594" text-anchor="middle" class="pl">(a)</text>
<line x1="926.00" y1="15.00" x2="926.00" y2="455.00" stroke="#b0b0b0" stroke-width="1.5" stroke-dasharray="1.5 3.9" stroke-dashoffset="4.85"/>
<line x1="952.33" y1="15.00" x2="952.33" y2="455.00" stroke="#b0b0b0" stroke-width="1.5" stroke-dasharray="1.5 3.9" stroke-dashoffset="4.85"/>
<line x1="971.01" y1="15.00" x2="971.01" y2="455.00" stroke="#b0b0b0" stroke-width="1.5" stroke-dasharray="1.5 3.9" stroke-dashoffset="4.85"/>
<line x1="985.50" y1="15.00" x2="985.50" y2="455.00" stroke="#b0b0b0" stroke-width="1.5" stroke-dasharray="1.5 3.9" stroke-dashoffset="4.85"/>
<line x1="997.33" y1="15.00" x2="997.33" y2="455.00" stroke="#b0b0b0" stroke-width="1.5" stroke-dasharray="1.5 3.9" stroke-dashoffset="4.85"/>
<line x1="1007.34" y1="15.00" x2="1007.34" y2="455.00" stroke="#b0b0b0" stroke-width="1.5" stroke-dasharray="1.5 3.9" stroke-dashoffset="4.85"/>
<line x1="1016.01" y1="15.00" x2="1016.01" y2="455.00" stroke="#b0b0b0" stroke-width="1.5" stroke-dasharray="1.5 3.9" stroke-dashoffset="4.85"/>
<line x1="1023.66" y1="15.00" x2="1023.66" y2="455.00" stroke="#b0b0b0" stroke-width="1.5" stroke-dasharray="1.5 3.9" stroke-dashoffset="4.85"/>
<line x1="1075.50" y1="15.00" x2="1075.50" y2="455.00" stroke="#b0b0b0" stroke-width="1.5" stroke-dasharray="1.5 3.9" stroke-dashoffset="4.85"/>
<line x1="1101.83" y1="15.00" x2="1101.83" y2="455.00" stroke="#b0b0b0" stroke-width="1.5" stroke-dasharray="1.5 3.9" stroke-dashoffset="4.85"/>
<line x1="1120.51" y1="15.00" x2="1120.51" y2="455.00" stroke="#b0b0b0" stroke-width="1.5" stroke-dasharray="1.5 3.9" stroke-dashoffset="4.85"/>
<line x1="1135.00" y1="15.00" x2="1135.00" y2="455.00" stroke="#b0b0b0" stroke-width="1.5" stroke-dasharray="1.5 3.9" stroke-dashoffset="4.85"/>
<line x1="1146.83" y1="15.00" x2="1146.83" y2="455.00" stroke="#b0b0b0" stroke-width="1.5" stroke-dasharray="1.5 3.9" stroke-dashoffset="4.85"/>
<line x1="1156.84" y1="15.00" x2="1156.84" y2="455.00" stroke="#b0b0b0" stroke-width="1.5" stroke-dasharray="1.5 3.9" stroke-dashoffset="4.85"/>
<line x1="1165.51" y1="15.00" x2="1165.51" y2="455.00" stroke="#b0b0b0" stroke-width="1.5" stroke-dasharray="1.5 3.9" stroke-dashoffset="4.85"/>
<line x1="1173.16" y1="15.00" x2="1173.16" y2="455.00" stroke="#b0b0b0" stroke-width="1.5" stroke-dasharray="1.5 3.9" stroke-dashoffset="4.85"/>
<line x1="1225.00" y1="15.00" x2="1225.00" y2="455.00" stroke="#b0b0b0" stroke-width="1.5" stroke-dasharray="1.5 3.9" stroke-dashoffset="4.85"/>
<line x1="1251.33" y1="15.00" x2="1251.33" y2="455.00" stroke="#b0b0b0" stroke-width="1.5" stroke-dasharray="1.5 3.9" stroke-dashoffset="4.85"/>
<line x1="1270.01" y1="15.00" x2="1270.01" y2="455.00" stroke="#b0b0b0" stroke-width="1.5" stroke-dasharray="1.5 3.9" stroke-dashoffset="4.85"/>
<line x1="1284.50" y1="15.00" x2="1284.50" y2="455.00" stroke="#b0b0b0" stroke-width="1.5" stroke-dasharray="1.5 3.9" stroke-dashoffset="4.85"/>
<line x1="1296.33" y1="15.00" x2="1296.33" y2="455.00" stroke="#b0b0b0" stroke-width="1.5" stroke-dasharray="1.5 3.9" stroke-dashoffset="4.85"/>
<line x1="1306.34" y1="15.00" x2="1306.34" y2="455.00" stroke="#b0b0b0" stroke-width="1.5" stroke-dasharray="1.5 3.9" stroke-dashoffset="4.85"/>
<line x1="1315.01" y1="15.00" x2="1315.01" y2="455.00" stroke="#b0b0b0" stroke-width="1.5" stroke-dasharray="1.5 3.9" stroke-dashoffset="4.85"/>
<line x1="1322.66" y1="15.00" x2="1322.66" y2="455.00" stroke="#b0b0b0" stroke-width="1.5" stroke-dasharray="1.5 3.9" stroke-dashoffset="4.85"/>
<line x1="1374.50" y1="15.00" x2="1374.50" y2="455.00" stroke="#b0b0b0" stroke-width="1.5" stroke-dasharray="1.5 3.9" stroke-dashoffset="4.85"/>
<line x1="1400.83" y1="15.00" x2="1400.83" y2="455.00" stroke="#b0b0b0" stroke-width="1.5" stroke-dasharray="1.5 3.9" stroke-dashoffset="4.85"/>
<line x1="1419.51" y1="15.00" x2="1419.51" y2="455.00" stroke="#b0b0b0" stroke-width="1.5" stroke-dasharray="1.5 3.9" stroke-dashoffset="4.85"/>
<line x1="1434.00" y1="15.00" x2="1434.00" y2="455.00" stroke="#b0b0b0" stroke-width="1.5" stroke-dasharray="1.5 3.9" stroke-dashoffset="4.85"/>
<line x1="1445.83" y1="15.00" x2="1445.83" y2="455.00" stroke="#b0b0b0" stroke-width="1.5" stroke-dasharray="1.5 3.9" stroke-dashoffset="4.85"/>
<line x1="1455.84" y1="15.00" x2="1455.84" y2="455.00" stroke="#b0b0b0" stroke-width="1.5" stroke-dasharray="1.5 3.9" stroke-dashoffset="4.85"/>
<line x1="1464.51" y1="15.00" x2="1464.51" y2="455.00" stroke="#b0b0b0" stroke-width="1.5" stroke-dasharray="1.5 3.9" stroke-dashoffset="4.85"/>
<line x1="1472.16" y1="15.00" x2="1472.16" y2="455.00" stroke="#b0b0b0" stroke-width="1.5" stroke-dasharray="1.5 3.9" stroke-dashoffset="4.85"/>
<line x1="1031.00" y1="455.00" x2="1031.00" y2="15.00" stroke="#dedede" stroke-width="1.7"/>
<line x1="1180.00" y1="455.00" x2="1180.00" y2="15.00" stroke="#dedede" stroke-width="1.7"/>
<line x1="1330.00" y1="455.00" x2="1330.00" y2="15.00" stroke="#dedede" stroke-width="1.7"/>
<line x1="1479.00" y1="455.00" x2="1479.00" y2="15.00" stroke="#dedede" stroke-width="1.7"/>
<line x1="881.00" y1="367.00" x2="1479.00" y2="367.00" stroke="#dedede" stroke-width="1.4"/>
<line x1="881.00" y1="279.00" x2="1479.00" y2="279.00" stroke="#dedede" stroke-width="1.4"/>
<line x1="881.00" y1="191.00" x2="1479.00" y2="191.00" stroke="#dedede" stroke-width="1.4"/>
<line x1="881.00" y1="103.00" x2="1479.00" y2="103.00" stroke="#dedede" stroke-width="1.4"/>
<line x1="881.00" y1="15.00" x2="1479.00" y2="15.00" stroke="#dedede" stroke-width="1.4"/>
<line x1="881.15" y1="14.20" x2="881.15" y2="455.50" stroke="#262626" stroke-width="1.7"/>
<line x1="880.30" y1="454.70" x2="1479.80" y2="454.70" stroke="#262626" stroke-width="1.7"/>
<line x1="881.00" y1="455.00" x2="888.00" y2="455.00" stroke="#262626" stroke-width="1.5"/>
<text x="871.00" y="466.00" text-anchor="end" class="tk">0</text>
<line x1="881.00" y1="367.00" x2="888.00" y2="367.00" stroke="#262626" stroke-width="1.5"/>
<text x="871.00" y="378.00" text-anchor="end" class="tk">20</text>
<line x1="881.00" y1="279.00" x2="888.00" y2="279.00" stroke="#262626" stroke-width="1.5"/>
<text x="871.00" y="290.00" text-anchor="end" class="tk">40</text>
<line x1="881.00" y1="191.00" x2="888.00" y2="191.00" stroke="#262626" stroke-width="1.5"/>
<text x="871.00" y="202.00" text-anchor="end" class="tk">60</text>
<line x1="881.00" y1="103.00" x2="888.00" y2="103.00" stroke="#262626" stroke-width="1.5"/>
<text x="871.00" y="114.00" text-anchor="end" class="tk">80</text>
<line x1="881.00" y1="15.00" x2="888.00" y2="15.00" stroke="#262626" stroke-width="1.5"/>
<text x="871.00" y="26.00" text-anchor="end" class="tk">100</text>
<line x1="881.00" y1="455.00" x2="881.00" y2="448.00" stroke="#262626" stroke-width="1.5"/>
<line x1="926.00" y1="455.00" x2="926.00" y2="451.00" stroke="#262626" stroke-width="1.5"/>
<line x1="952.33" y1="455.00" x2="952.33" y2="451.00" stroke="#262626" stroke-width="1.5"/>
<line x1="971.01" y1="455.00" x2="971.01" y2="451.00" stroke="#262626" stroke-width="1.5"/>
<line x1="985.50" y1="455.00" x2="985.50" y2="451.00" stroke="#262626" stroke-width="1.5"/>
<line x1="997.33" y1="455.00" x2="997.33" y2="451.00" stroke="#262626" stroke-width="1.5"/>
<line x1="1007.34" y1="455.00" x2="1007.34" y2="451.00" stroke="#262626" stroke-width="1.5"/>
<line x1="1016.01" y1="455.00" x2="1016.01" y2="451.00" stroke="#262626" stroke-width="1.5"/>
<line x1="1023.66" y1="455.00" x2="1023.66" y2="451.00" stroke="#262626" stroke-width="1.5"/>
<text x="880.70" y="503" text-anchor="middle" class="tk">10<tspan class="sup" dy="-15">0</tspan></text>
<line x1="1030.50" y1="455.00" x2="1030.50" y2="448.00" stroke="#262626" stroke-width="1.5"/>
<line x1="1075.50" y1="455.00" x2="1075.50" y2="451.00" stroke="#262626" stroke-width="1.5"/>
<line x1="1101.83" y1="455.00" x2="1101.83" y2="451.00" stroke="#262626" stroke-width="1.5"/>
<line x1="1120.51" y1="455.00" x2="1120.51" y2="451.00" stroke="#262626" stroke-width="1.5"/>
<line x1="1135.00" y1="455.00" x2="1135.00" y2="451.00" stroke="#262626" stroke-width="1.5"/>
<line x1="1146.83" y1="455.00" x2="1146.83" y2="451.00" stroke="#262626" stroke-width="1.5"/>
<line x1="1156.84" y1="455.00" x2="1156.84" y2="451.00" stroke="#262626" stroke-width="1.5"/>
<line x1="1165.51" y1="455.00" x2="1165.51" y2="451.00" stroke="#262626" stroke-width="1.5"/>
<line x1="1173.16" y1="455.00" x2="1173.16" y2="451.00" stroke="#262626" stroke-width="1.5"/>
<text x="1030.20" y="503" text-anchor="middle" class="tk">10<tspan class="sup" dy="-15">1</tspan></text>
<line x1="1180.00" y1="455.00" x2="1180.00" y2="448.00" stroke="#262626" stroke-width="1.5"/>
<line x1="1225.00" y1="455.00" x2="1225.00" y2="451.00" stroke="#262626" stroke-width="1.5"/>
<line x1="1251.33" y1="455.00" x2="1251.33" y2="451.00" stroke="#262626" stroke-width="1.5"/>
<line x1="1270.01" y1="455.00" x2="1270.01" y2="451.00" stroke="#262626" stroke-width="1.5"/>
<line x1="1284.50" y1="455.00" x2="1284.50" y2="451.00" stroke="#262626" stroke-width="1.5"/>
<line x1="1296.33" y1="455.00" x2="1296.33" y2="451.00" stroke="#262626" stroke-width="1.5"/>
<line x1="1306.34" y1="455.00" x2="1306.34" y2="451.00" stroke="#262626" stroke-width="1.5"/>
<line x1="1315.01" y1="455.00" x2="1315.01" y2="451.00" stroke="#262626" stroke-width="1.5"/>
<line x1="1322.66" y1="455.00" x2="1322.66" y2="451.00" stroke="#262626" stroke-width="1.5"/>
<text x="1179.70" y="503" text-anchor="middle" class="tk">10<tspan class="sup" dy="-15">2</tspan></text>
<line x1="1329.50" y1="455.00" x2="1329.50" y2="448.00" stroke="#262626" stroke-width="1.5"/>
<line x1="1374.50" y1="455.00" x2="1374.50" y2="451.00" stroke="#262626" stroke-width="1.5"/>
<line x1="1400.83" y1="455.00" x2="1400.83" y2="451.00" stroke="#262626" stroke-width="1.5"/>
<line x1="1419.51" y1="455.00" x2="1419.51" y2="451.00" stroke="#262626" stroke-width="1.5"/>
<line x1="1434.00" y1="455.00" x2="1434.00" y2="451.00" stroke="#262626" stroke-width="1.5"/>
<line x1="1445.83" y1="455.00" x2="1445.83" y2="451.00" stroke="#262626" stroke-width="1.5"/>
<line x1="1455.84" y1="455.00" x2="1455.84" y2="451.00" stroke="#262626" stroke-width="1.5"/>
<line x1="1464.51" y1="455.00" x2="1464.51" y2="451.00" stroke="#262626" stroke-width="1.5"/>
<line x1="1472.16" y1="455.00" x2="1472.16" y2="451.00" stroke="#262626" stroke-width="1.5"/>
<text x="1329.20" y="503" text-anchor="middle" class="tk">10<tspan class="sup" dy="-15">3</tspan></text>
<line x1="1479.00" y1="455.00" x2="1479.00" y2="448.00" stroke="#262626" stroke-width="1.5"/>
<text x="1478.70" y="503" text-anchor="middle" class="tk">10<tspan class="sup" dy="-15">4</tspan></text>
<polyline points="881.00,446.23 926.00,431.69 952.33,410.97 971.01,389.38 985.50,363.38 997.33,341.34 1007.34,319.31 1016.01,298.59 1023.66,280.97 1030.50,264.22 1075.50,158.01 1101.83,104.68 1120.51,108.65 1135.00,146.55 1146.83,184.89 1156.84,169.91 1165.51,158.01 1173.16,147.87 1180.00,139.06 1225.00,119.67 1251.33,118.35 1270.01,109.09 1284.50,97.63 1296.33,89.70 1306.34,93.23 1315.01,84.41 1322.66,77.80 1329.50,77.80 1374.50,80.00 1400.83,91.46 1419.51,97.19 1434.00,105.12 1445.83,114.82 1455.84,120.99 1464.51,128.48 1472.16,135.09 1479.00,141.70" fill="none" stroke="#0072BD" stroke-width="3.5" stroke-linejoin="round"/>
<circle cx="881.00" cy="446.23" r="5.5" fill="none" stroke="#0072BD" stroke-width="3.8"/>
<circle cx="926.00" cy="431.69" r="5.5" fill="none" stroke="#0072BD" stroke-width="3.8"/>
<circle cx="952.33" cy="410.97" r="5.5" fill="none" stroke="#0072BD" stroke-width="3.8"/>
<circle cx="971.01" cy="389.38" r="5.5" fill="none" stroke="#0072BD" stroke-width="3.8"/>
<circle cx="985.50" cy="363.38" r="5.5" fill="none" stroke="#0072BD" stroke-width="3.8"/>
<circle cx="997.33" cy="341.34" r="5.5" fill="none" stroke="#0072BD" stroke-width="3.8"/>
<circle cx="1007.34" cy="319.31" r="5.5" fill="none" stroke="#0072BD" stroke-width="3.8"/>
<circle cx="1016.01" cy="298.59" r="5.5" fill="none" stroke="#0072BD" stroke-width="3.8"/>
<circle cx="1023.66" cy="280.97" r="5.5" fill="none" stroke="#0072BD" stroke-width="3.8"/>
<circle cx="1030.50" cy="264.22" r="5.5" fill="none" stroke="#0072BD" stroke-width="3.8"/>
<circle cx="1075.50" cy="158.01" r="5.5" fill="none" stroke="#0072BD" stroke-width="3.8"/>
<circle cx="1101.83" cy="104.68" r="5.5" fill="none" stroke="#0072BD" stroke-width="3.8"/>
<circle cx="1120.51" cy="108.65" r="5.5" fill="none" stroke="#0072BD" stroke-width="3.8"/>
<circle cx="1135.00" cy="146.55" r="5.5" fill="none" stroke="#0072BD" stroke-width="3.8"/>
<circle cx="1146.83" cy="184.89" r="5.5" fill="none" stroke="#0072BD" stroke-width="3.8"/>
<circle cx="1156.84" cy="169.91" r="5.5" fill="none" stroke="#0072BD" stroke-width="3.8"/>
<circle cx="1165.51" cy="158.01" r="5.5" fill="none" stroke="#0072BD" stroke-width="3.8"/>
<circle cx="1173.16" cy="147.87" r="5.5" fill="none" stroke="#0072BD" stroke-width="3.8"/>
<circle cx="1180.00" cy="139.06" r="5.5" fill="none" stroke="#0072BD" stroke-width="3.8"/>
<circle cx="1225.00" cy="119.67" r="5.5" fill="none" stroke="#0072BD" stroke-width="3.8"/>
<circle cx="1251.33" cy="118.35" r="5.5" fill="none" stroke="#0072BD" stroke-width="3.8"/>
<circle cx="1270.01" cy="109.09" r="5.5" fill="none" stroke="#0072BD" stroke-width="3.8"/>
<circle cx="1284.50" cy="97.63" r="5.5" fill="none" stroke="#0072BD" stroke-width="3.8"/>
<circle cx="1296.33" cy="89.70" r="5.5" fill="none" stroke="#0072BD" stroke-width="3.8"/>
<circle cx="1306.34" cy="93.23" r="5.5" fill="none" stroke="#0072BD" stroke-width="3.8"/>
<circle cx="1315.01" cy="84.41" r="5.5" fill="none" stroke="#0072BD" stroke-width="3.8"/>
<circle cx="1322.66" cy="77.80" r="5.5" fill="none" stroke="#0072BD" stroke-width="3.8"/>
<circle cx="1329.50" cy="77.80" r="5.5" fill="none" stroke="#0072BD" stroke-width="3.8"/>
<circle cx="1374.50" cy="80.00" r="5.5" fill="none" stroke="#0072BD" stroke-width="3.8"/>
<circle cx="1400.83" cy="91.46" r="5.5" fill="none" stroke="#0072BD" stroke-width="3.8"/>
<circle cx="1419.51" cy="97.19" r="5.5" fill="none" stroke="#0072BD" stroke-width="3.8"/>
<circle cx="1434.00" cy="105.12" r="5.5" fill="none" stroke="#0072BD" stroke-width="3.8"/>
<circle cx="1445.83" cy="114.82" r="5.5" fill="none" stroke="#0072BD" stroke-width="3.8"/>
<circle cx="1455.84" cy="120.99" r="5.5" fill="none" stroke="#0072BD" stroke-width="3.8"/>
<circle cx="1464.51" cy="128.48" r="5.5" fill="none" stroke="#0072BD" stroke-width="3.8"/>
<circle cx="1472.16" cy="135.09" r="5.5" fill="none" stroke="#0072BD" stroke-width="3.8"/>
<circle cx="1479.00" cy="141.70" r="5.5" fill="none" stroke="#0072BD" stroke-width="3.8"/>
<polyline points="881.00,447.55 926.00,434.33 952.33,416.26 971.01,396.43 985.50,374.84 997.33,355.44 1007.34,339.14 1016.01,324.15 1023.66,310.49 1030.50,299.47 1075.50,220.59 1101.83,172.11 1120.51,149.64 1135.00,148.31 1146.83,163.30 1156.84,188.86 1165.51,173.43 1173.16,155.81 1180.00,140.38 1225.00,108.65 1251.33,130.69 1270.01,107.33 1284.50,114.38 1296.33,127.16 1306.34,130.24 1315.01,132.89 1322.66,135.97 1329.50,137.30 1374.50,178.28 1400.83,219.71 1419.51,251.88 1434.00,276.56 1445.83,290.66 1455.84,299.03 1464.51,306.97 1472.16,312.26 1479.00,318.43" fill="none" stroke="#D95319" stroke-width="3.5" stroke-linejoin="round"/>
<circle cx="881.00" cy="447.55" r="5.5" fill="none" stroke="#D95319" stroke-width="3.8"/>
<circle cx="926.00" cy="434.33" r="5.5" fill="none" stroke="#D95319" stroke-width="3.8"/>
<circle cx="952.33" cy="416.26" r="5.5" fill="none" stroke="#D95319" stroke-width="3.8"/>
<circle cx="971.01" cy="396.43" r="5.5" fill="none" stroke="#D95319" stroke-width="3.8"/>
<circle cx="985.50" cy="374.84" r="5.5" fill="none" stroke="#D95319" stroke-width="3.8"/>
<circle cx="997.33" cy="355.44" r="5.5" fill="none" stroke="#D95319" stroke-width="3.8"/>
<circle cx="1007.34" cy="339.14" r="5.5" fill="none" stroke="#D95319" stroke-width="3.8"/>
<circle cx="1016.01" cy="324.15" r="5.5" fill="none" stroke="#D95319" stroke-width="3.8"/>
<circle cx="1023.66" cy="310.49" r="5.5" fill="none" stroke="#D95319" stroke-width="3.8"/>
<circle cx="1030.50" cy="299.47" r="5.5" fill="none" stroke="#D95319" stroke-width="3.8"/>
<circle cx="1075.50" cy="220.59" r="5.5" fill="none" stroke="#D95319" stroke-width="3.8"/>
<circle cx="1101.83" cy="172.11" r="5.5" fill="none" stroke="#D95319" stroke-width="3.8"/>
<circle cx="1120.51" cy="149.64" r="5.5" fill="none" stroke="#D95319" stroke-width="3.8"/>
<circle cx="1135.00" cy="148.31" r="5.5" fill="none" stroke="#D95319" stroke-width="3.8"/>
<circle cx="1146.83" cy="163.30" r="5.5" fill="none" stroke="#D95319" stroke-width="3.8"/>
<circle cx="1156.84" cy="188.86" r="5.5" fill="none" stroke="#D95319" stroke-width="3.8"/>
<circle cx="1165.51" cy="173.43" r="5.5" fill="none" stroke="#D95319" stroke-width="3.8"/>
<circle cx="1173.16" cy="155.81" r="5.5" fill="none" stroke="#D95319" stroke-width="3.8"/>
<circle cx="1180.00" cy="140.38" r="5.5" fill="none" stroke="#D95319" stroke-width="3.8"/>
<circle cx="1225.00" cy="108.65" r="5.5" fill="none" stroke="#D95319" stroke-width="3.8"/>
<circle cx="1251.33" cy="130.69" r="5.5" fill="none" stroke="#D95319" stroke-width="3.8"/>
<circle cx="1270.01" cy="107.33" r="5.5" fill="none" stroke="#D95319" stroke-width="3.8"/>
<circle cx="1284.50" cy="114.38" r="5.5" fill="none" stroke="#D95319" stroke-width="3.8"/>
<circle cx="1296.33" cy="127.16" r="5.5" fill="none" stroke="#D95319" stroke-width="3.8"/>
<circle cx="1306.34" cy="130.24" r="5.5" fill="none" stroke="#D95319" stroke-width="3.8"/>
<circle cx="1315.01" cy="132.89" r="5.5" fill="none" stroke="#D95319" stroke-width="3.8"/>
<circle cx="1322.66" cy="135.97" r="5.5" fill="none" stroke="#D95319" stroke-width="3.8"/>
<circle cx="1329.50" cy="137.30" r="5.5" fill="none" stroke="#D95319" stroke-width="3.8"/>
<circle cx="1374.50" cy="178.28" r="5.5" fill="none" stroke="#D95319" stroke-width="3.8"/>
<circle cx="1400.83" cy="219.71" r="5.5" fill="none" stroke="#D95319" stroke-width="3.8"/>
<circle cx="1419.51" cy="251.88" r="5.5" fill="none" stroke="#D95319" stroke-width="3.8"/>
<circle cx="1434.00" cy="276.56" r="5.5" fill="none" stroke="#D95319" stroke-width="3.8"/>
<circle cx="1445.83" cy="290.66" r="5.5" fill="none" stroke="#D95319" stroke-width="3.8"/>
<circle cx="1455.84" cy="299.03" r="5.5" fill="none" stroke="#D95319" stroke-width="3.8"/>
<circle cx="1464.51" cy="306.97" r="5.5" fill="none" stroke="#D95319" stroke-width="3.8"/>
<circle cx="1472.16" cy="312.26" r="5.5" fill="none" stroke="#D95319" stroke-width="3.8"/>
<circle cx="1479.00" cy="318.43" r="5.5" fill="none" stroke="#D95319" stroke-width="3.8"/>
<polyline points="881.00,448.87 926.00,439.18 952.33,425.96 971.01,411.41 985.50,396.43 997.33,381.89 1007.34,365.14 1016.01,350.60 1023.66,337.38 1030.50,324.15 1075.50,233.37 1101.83,179.60 1120.51,162.42 1135.00,169.91 1146.83,185.33 1156.84,198.11 1165.51,180.04 1173.16,165.94 1180.00,154.04 1225.00,124.96 1251.33,167.26 1270.01,132.45 1284.50,124.96 1296.33,135.09 1306.34,139.50 1315.01,141.26 1322.66,142.58 1329.50,144.35 1374.50,193.71 1400.83,236.89 1419.51,269.51 1434.00,289.34 1445.83,303.88 1455.84,312.26 1464.51,319.75 1472.16,325.48 1479.00,329.88" fill="none" stroke="#EDB120" stroke-width="3.5" stroke-linejoin="round"/>
<circle cx="881.00" cy="448.87" r="5.5" fill="none" stroke="#EDB120" stroke-width="3.8"/>
<circle cx="926.00" cy="439.18" r="5.5" fill="none" stroke="#EDB120" stroke-width="3.8"/>
<circle cx="952.33" cy="425.96" r="5.5" fill="none" stroke="#EDB120" stroke-width="3.8"/>
<circle cx="971.01" cy="411.41" r="5.5" fill="none" stroke="#EDB120" stroke-width="3.8"/>
<circle cx="985.50" cy="396.43" r="5.5" fill="none" stroke="#EDB120" stroke-width="3.8"/>
<circle cx="997.33" cy="381.89" r="5.5" fill="none" stroke="#EDB120" stroke-width="3.8"/>
<circle cx="1007.34" cy="365.14" r="5.5" fill="none" stroke="#EDB120" stroke-width="3.8"/>
<circle cx="1016.01" cy="350.60" r="5.5" fill="none" stroke="#EDB120" stroke-width="3.8"/>
<circle cx="1023.66" cy="337.38" r="5.5" fill="none" stroke="#EDB120" stroke-width="3.8"/>
<circle cx="1030.50" cy="324.15" r="5.5" fill="none" stroke="#EDB120" stroke-width="3.8"/>
<circle cx="1075.50" cy="233.37" r="5.5" fill="none" stroke="#EDB120" stroke-width="3.8"/>
<circle cx="1101.83" cy="179.60" r="5.5" fill="none" stroke="#EDB120" stroke-width="3.8"/>
<circle cx="1120.51" cy="162.42" r="5.5" fill="none" stroke="#EDB120" stroke-width="3.8"/>
<circle cx="1135.00" cy="169.91" r="5.5" fill="none" stroke="#EDB120" stroke-width="3.8"/>
<circle cx="1146.83" cy="185.33" r="5.5" fill="none" stroke="#EDB120" stroke-width="3.8"/>
<circle cx="1156.84" cy="198.11" r="5.5" fill="none" stroke="#EDB120" stroke-width="3.8"/>
<circle cx="1165.51" cy="180.04" r="5.5" fill="none" stroke="#EDB120" stroke-width="3.8"/>
<circle cx="1173.16" cy="165.94" r="5.5" fill="none" stroke="#EDB120" stroke-width="3.8"/>
<circle cx="1180.00" cy="154.04" r="5.5" fill="none" stroke="#EDB120" stroke-width="3.8"/>
<circle cx="1225.00" cy="124.96" r="5.5" fill="none" stroke="#EDB120" stroke-width="3.8"/>
<circle cx="1251.33" cy="167.26" r="5.5" fill="none" stroke="#EDB120" stroke-width="3.8"/>
<circle cx="1270.01" cy="132.45" r="5.5" fill="none" stroke="#EDB120" stroke-width="3.8"/>
<circle cx="1284.50" cy="124.96" r="5.5" fill="none" stroke="#EDB120" stroke-width="3.8"/>
<circle cx="1296.33" cy="135.09" r="5.5" fill="none" stroke="#EDB120" stroke-width="3.8"/>
<circle cx="1306.34" cy="139.50" r="5.5" fill="none" stroke="#EDB120" stroke-width="3.8"/>
<circle cx="1315.01" cy="141.26" r="5.5" fill="none" stroke="#EDB120" stroke-width="3.8"/>
<circle cx="1322.66" cy="142.58" r="5.5" fill="none" stroke="#EDB120" stroke-width="3.8"/>
<circle cx="1329.50" cy="144.35" r="5.5" fill="none" stroke="#EDB120" stroke-width="3.8"/>
<circle cx="1374.50" cy="193.71" r="5.5" fill="none" stroke="#EDB120" stroke-width="3.8"/>
<circle cx="1400.83" cy="236.89" r="5.5" fill="none" stroke="#EDB120" stroke-width="3.8"/>
<circle cx="1419.51" cy="269.51" r="5.5" fill="none" stroke="#EDB120" stroke-width="3.8"/>
<circle cx="1434.00" cy="289.34" r="5.5" fill="none" stroke="#EDB120" stroke-width="3.8"/>
<circle cx="1445.83" cy="303.88" r="5.5" fill="none" stroke="#EDB120" stroke-width="3.8"/>
<circle cx="1455.84" cy="312.26" r="5.5" fill="none" stroke="#EDB120" stroke-width="3.8"/>
<circle cx="1464.51" cy="319.75" r="5.5" fill="none" stroke="#EDB120" stroke-width="3.8"/>
<circle cx="1472.16" cy="325.48" r="5.5" fill="none" stroke="#EDB120" stroke-width="3.8"/>
<circle cx="1479.00" cy="329.88" r="5.5" fill="none" stroke="#EDB120" stroke-width="3.8"/>
<polyline points="881.00,451.08 926.00,442.26 952.33,434.33 971.01,423.75 985.50,413.18 997.33,401.72 1007.34,390.70 1016.01,380.12 1023.66,369.11 1030.50,359.85 1075.50,286.25 1101.83,236.01 1120.51,209.13 1135.00,205.16 1146.83,201.64 1156.84,176.96 1165.51,161.09 1173.16,150.52 1180.00,140.82 1225.00,133.33 1251.33,159.33 1270.01,160.21 1284.50,156.69 1296.33,178.72 1306.34,184.89 1315.01,188.42 1322.66,206.49 1329.50,215.74 1374.50,284.49 1400.83,314.02 1419.51,327.68 1434.00,338.70 1445.83,347.95 1455.84,356.77 1464.51,363.82 1472.16,370.43 1479.00,376.60" fill="none" stroke="#7E2F8E" stroke-width="3.5" stroke-linejoin="round"/>
<circle cx="881.00" cy="451.08" r="5.5" fill="none" stroke="#7E2F8E" stroke-width="3.8"/>
<circle cx="926.00" cy="442.26" r="5.5" fill="none" stroke="#7E2F8E" stroke-width="3.8"/>
<circle cx="952.33" cy="434.33" r="5.5" fill="none" stroke="#7E2F8E" stroke-width="3.8"/>
<circle cx="971.01" cy="423.75" r="5.5" fill="none" stroke="#7E2F8E" stroke-width="3.8"/>
<circle cx="985.50" cy="413.18" r="5.5" fill="none" stroke="#7E2F8E" stroke-width="3.8"/>
<circle cx="997.33" cy="401.72" r="5.5" fill="none" stroke="#7E2F8E" stroke-width="3.8"/>
<circle cx="1007.34" cy="390.70" r="5.5" fill="none" stroke="#7E2F8E" stroke-width="3.8"/>
<circle cx="1016.01" cy="380.12" r="5.5" fill="none" stroke="#7E2F8E" stroke-width="3.8"/>
<circle cx="1023.66" cy="369.11" r="5.5" fill="none" stroke="#7E2F8E" stroke-width="3.8"/>
<circle cx="1030.50" cy="359.85" r="5.5" fill="none" stroke="#7E2F8E" stroke-width="3.8"/>
<circle cx="1075.50" cy="286.25" r="5.5" fill="none" stroke="#7E2F8E" stroke-width="3.8"/>
<circle cx="1101.83" cy="236.01" r="5.5" fill="none" stroke="#7E2F8E" stroke-width="3.8"/>
<circle cx="1120.51" cy="209.13" r="5.5" fill="none" stroke="#7E2F8E" stroke-width="3.8"/>
<circle cx="1135.00" cy="205.16" r="5.5" fill="none" stroke="#7E2F8E" stroke-width="3.8"/>
<circle cx="1146.83" cy="201.64" r="5.5" fill="none" stroke="#7E2F8E" stroke-width="3.8"/>
<circle cx="1156.84" cy="176.96" r="5.5" fill="none" stroke="#7E2F8E" stroke-width="3.8"/>
<circle cx="1165.51" cy="161.09" r="5.5" fill="none" stroke="#7E2F8E" stroke-width="3.8"/>
<circle cx="1173.16" cy="150.52" r="5.5" fill="none" stroke="#7E2F8E" stroke-width="3.8"/>
<circle cx="1180.00" cy="140.82" r="5.5" fill="none" stroke="#7E2F8E" stroke-width="3.8"/>
<circle cx="1225.00" cy="133.33" r="5.5" fill="none" stroke="#7E2F8E" stroke-width="3.8"/>
<circle cx="1251.33" cy="159.33" r="5.5" fill="none" stroke="#7E2F8E" stroke-width="3.8"/>
<circle cx="1270.01" cy="160.21" r="5.5" fill="none" stroke="#7E2F8E" stroke-width="3.8"/>
<circle cx="1284.50" cy="156.69" r="5.5" fill="none" stroke="#7E2F8E" stroke-width="3.8"/>
<circle cx="1296.33" cy="178.72" r="5.5" fill="none" stroke="#7E2F8E" stroke-width="3.8"/>
<circle cx="1306.34" cy="184.89" r="5.5" fill="none" stroke="#7E2F8E" stroke-width="3.8"/>
<circle cx="1315.01" cy="188.42" r="5.5" fill="none" stroke="#7E2F8E" stroke-width="3.8"/>
<circle cx="1322.66" cy="206.49" r="5.5" fill="none" stroke="#7E2F8E" stroke-width="3.8"/>
<circle cx="1329.50" cy="215.74" r="5.5" fill="none" stroke="#7E2F8E" stroke-width="3.8"/>
<circle cx="1374.50" cy="284.49" r="5.5" fill="none" stroke="#7E2F8E" stroke-width="3.8"/>
<circle cx="1400.83" cy="314.02" r="5.5" fill="none" stroke="#7E2F8E" stroke-width="3.8"/>
<circle cx="1419.51" cy="327.68" r="5.5" fill="none" stroke="#7E2F8E" stroke-width="3.8"/>
<circle cx="1434.00" cy="338.70" r="5.5" fill="none" stroke="#7E2F8E" stroke-width="3.8"/>
<circle cx="1445.83" cy="347.95" r="5.5" fill="none" stroke="#7E2F8E" stroke-width="3.8"/>
<circle cx="1455.84" cy="356.77" r="5.5" fill="none" stroke="#7E2F8E" stroke-width="3.8"/>
<circle cx="1464.51" cy="363.82" r="5.5" fill="none" stroke="#7E2F8E" stroke-width="3.8"/>
<circle cx="1472.16" cy="370.43" r="5.5" fill="none" stroke="#7E2F8E" stroke-width="3.8"/>
<circle cx="1479.00" cy="376.60" r="5.5" fill="none" stroke="#7E2F8E" stroke-width="3.8"/>
<polyline points="881.00,452.84 926.00,450.20 952.33,447.11 971.01,441.38 985.50,436.09 997.33,428.60 1007.34,421.11 1016.01,416.70 1023.66,410.09 1030.50,403.48 1075.50,367.78 1101.83,350.60 1120.51,330.76 1135.00,347.51 1146.83,364.70 1156.84,301.24 1165.51,254.96 1173.16,234.69 1180.00,243.95 1225.00,169.47 1251.33,148.31 1270.01,132.45 1284.50,132.45 1296.33,129.80 1306.34,127.60 1315.01,125.40 1322.66,123.19 1329.50,121.43 1374.50,115.26 1400.83,112.62 1419.51,106.89 1434.00,102.92 1445.83,96.31 1455.84,99.40 1464.51,97.63 1472.16,100.72 1479.00,101.60" fill="none" stroke="#77AC30" stroke-width="3.5" stroke-linejoin="round"/>
<circle cx="881.00" cy="452.84" r="5.5" fill="none" stroke="#77AC30" stroke-width="3.8"/>
<circle cx="926.00" cy="450.20" r="5.5" fill="none" stroke="#77AC30" stroke-width="3.8"/>
<circle cx="952.33" cy="447.11" r="5.5" fill="none" stroke="#77AC30" stroke-width="3.8"/>
<circle cx="971.01" cy="441.38" r="5.5" fill="none" stroke="#77AC30" stroke-width="3.8"/>
<circle cx="985.50" cy="436.09" r="5.5" fill="none" stroke="#77AC30" stroke-width="3.8"/>
<circle cx="997.33" cy="428.60" r="5.5" fill="none" stroke="#77AC30" stroke-width="3.8"/>
<circle cx="1007.34" cy="421.11" r="5.5" fill="none" stroke="#77AC30" stroke-width="3.8"/>
<circle cx="1016.01" cy="416.70" r="5.5" fill="none" stroke="#77AC30" stroke-width="3.8"/>
<circle cx="1023.66" cy="410.09" r="5.5" fill="none" stroke="#77AC30" stroke-width="3.8"/>
<circle cx="1030.50" cy="403.48" r="5.5" fill="none" stroke="#77AC30" stroke-width="3.8"/>
<circle cx="1075.50" cy="367.78" r="5.5" fill="none" stroke="#77AC30" stroke-width="3.8"/>
<circle cx="1101.83" cy="350.60" r="5.5" fill="none" stroke="#77AC30" stroke-width="3.8"/>
<circle cx="1120.51" cy="330.76" r="5.5" fill="none" stroke="#77AC30" stroke-width="3.8"/>
<circle cx="1135.00" cy="347.51" r="5.5" fill="none" stroke="#77AC30" stroke-width="3.8"/>
<circle cx="1146.83" cy="364.70" r="5.5" fill="none" stroke="#77AC30" stroke-width="3.8"/>
<circle cx="1156.84" cy="301.24" r="5.5" fill="none" stroke="#77AC30" stroke-width="3.8"/>
<circle cx="1165.51" cy="254.96" r="5.5" fill="none" stroke="#77AC30" stroke-width="3.8"/>
<circle cx="1173.16" cy="234.69" r="5.5" fill="none" stroke="#77AC30" stroke-width="3.8"/>
<circle cx="1180.00" cy="243.95" r="5.5" fill="none" stroke="#77AC30" stroke-width="3.8"/>
<circle cx="1225.00" cy="169.47" r="5.5" fill="none" stroke="#77AC30" stroke-width="3.8"/>
<circle cx="1251.33" cy="148.31" r="5.5" fill="none" stroke="#77AC30" stroke-width="3.8"/>
<circle cx="1270.01" cy="132.45" r="5.5" fill="none" stroke="#77AC30" stroke-width="3.8"/>
<circle cx="1284.50" cy="132.45" r="5.5" fill="none" stroke="#77AC30" stroke-width="3.8"/>
<circle cx="1296.33" cy="129.80" r="5.5" fill="none" stroke="#77AC30" stroke-width="3.8"/>
<circle cx="1306.34" cy="127.60" r="5.5" fill="none" stroke="#77AC30" stroke-width="3.8"/>
<circle cx="1315.01" cy="125.40" r="5.5" fill="none" stroke="#77AC30" stroke-width="3.8"/>
<circle cx="1322.66" cy="123.19" r="5.5" fill="none" stroke="#77AC30" stroke-width="3.8"/>
<circle cx="1329.50" cy="121.43" r="5.5" fill="none" stroke="#77AC30" stroke-width="3.8"/>
<circle cx="1374.50" cy="115.26" r="5.5" fill="none" stroke="#77AC30" stroke-width="3.8"/>
<circle cx="1400.83" cy="112.62" r="5.5" fill="none" stroke="#77AC30" stroke-width="3.8"/>
<circle cx="1419.51" cy="106.89" r="5.5" fill="none" stroke="#77AC30" stroke-width="3.8"/>
<circle cx="1434.00" cy="102.92" r="5.5" fill="none" stroke="#77AC30" stroke-width="3.8"/>
<circle cx="1445.83" cy="96.31" r="5.5" fill="none" stroke="#77AC30" stroke-width="3.8"/>
<circle cx="1455.84" cy="99.40" r="5.5" fill="none" stroke="#77AC30" stroke-width="3.8"/>
<circle cx="1464.51" cy="97.63" r="5.5" fill="none" stroke="#77AC30" stroke-width="3.8"/>
<circle cx="1472.16" cy="100.72" r="5.5" fill="none" stroke="#77AC30" stroke-width="3.8"/>
<circle cx="1479.00" cy="101.60" r="5.5" fill="none" stroke="#77AC30" stroke-width="3.8"/>
<rect x="1193.40" y="279.60" width="128.10" height="167.80" fill="#fff" stroke="#262626" stroke-width="1.6"/>
<line x1="1198.40" y1="298.50" x2="1253.90" y2="298.50" stroke="#0072BD" stroke-width="3.5"/>
<circle cx="1226.00" cy="298.50" r="5.5" fill="none" stroke="#0072BD" stroke-width="3.8"/>
<text x="1257.90" y="309.00" class="lg">AlSb</text>
<line x1="1198.40" y1="331.20" x2="1253.90" y2="331.20" stroke="#D95319" stroke-width="3.5"/>
<circle cx="1226.00" cy="331.20" r="5.5" fill="none" stroke="#D95319" stroke-width="3.8"/>
<text x="1257.90" y="341.70" class="lg">Ge</text>
<line x1="1198.40" y1="363.90" x2="1253.90" y2="363.90" stroke="#EDB120" stroke-width="3.5"/>
<circle cx="1226.00" cy="363.90" r="5.5" fill="none" stroke="#EDB120" stroke-width="3.8"/>
<text x="1257.90" y="374.40" class="lg">a-Si</text>
<line x1="1198.40" y1="396.60" x2="1253.90" y2="396.60" stroke="#7E2F8E" stroke-width="3.5"/>
<circle cx="1226.00" cy="396.60" r="5.5" fill="none" stroke="#7E2F8E" stroke-width="3.8"/>
<text x="1257.90" y="407.10" class="lg">InAs</text>
<line x1="1198.40" y1="429.30" x2="1253.90" y2="429.30" stroke="#77AC30" stroke-width="3.5"/>
<circle cx="1226.00" cy="429.30" r="5.5" fill="none" stroke="#77AC30" stroke-width="3.8"/>
<text x="1257.90" y="439.80" class="lg">GaP</text>
<g transform="translate(806.00,0) rotate(-90)"><text x="-333.4" y="0" class="al" textLength="64" lengthAdjust="spacingAndGlyphs">max</text><text x="-258.0" y="0" class="al it" style="font-size:37.5px" textLength="27" lengthAdjust="spacingAndGlyphs">C</text><text x="-231.0" y="0" class="al it" style="font-size:37.5px" textLength="27" lengthAdjust="spacingAndGlyphs">F</text><text x="-177.8" y="1.5" class="al" style="font-size:38px" textLength="26" lengthAdjust="spacingAndGlyphs">%</text></g>
<text x="1128.00" y="541" class="al it" style="font-size:36px">h</text>
<path d="M779.50,181.00 A23.74,23.74 0 0 0 814.50,181.00 L814.50,180.00 A27.13,27.13 0 0 1 779.50,180.00 Z" fill="#000"/>
<path d="M779.50,147.00 A25.38,25.38 0 0 1 814.50,147.00 L814.50,148.00 A29.71,29.71 0 0 0 779.50,148.00 Z" fill="#000"/>
<path d="M1169.20,515.30 A22.62,22.62 0 0 0 1169.20,549.30 L1170.20,549.30 A25.78,25.78 0 0 1 1170.20,515.30 Z" fill="#000"/>
<text x="1172.00" y="541" class="al" textLength="48" lengthAdjust="spacingAndGlyphs">nm</text>
<path d="M1222.40,515.30 A23.23,23.23 0 0 1 1222.40,549.30 L1221.40,549.30 A26.74,26.74 0 0 0 1221.40,515.30 Z" fill="#000"/>
<text x="1180.00" y="594" text-anchor="middle" class="pl">(b)</text>
</svg>
</body></html>
